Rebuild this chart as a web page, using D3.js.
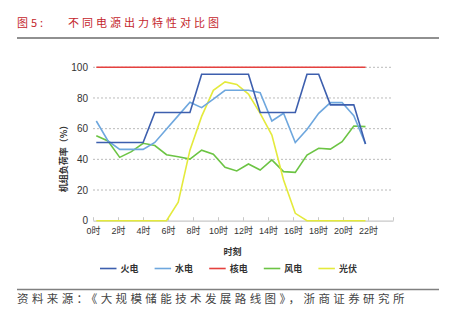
<!DOCTYPE html>
<html><head><meta charset="utf-8">
<script src="https://cdn.jsdelivr.net/npm/d3@7/dist/d3.min.js"></script>
<style>
html,body{margin:0;padding:0;background:#fff;}
svg{display:block;font-family:"Liberation Sans",Arial,"Noto Sans CJK SC",sans-serif;}
</style></head>
<body><svg id="c" width="452" height="323"></svg>
<script>
// ---- data ----
const hours = [0,1,2,3,4,5,6,7,8,9,10,11,12,13,14,15,16,17,18,19,20,21,22,23];
const thermal = [51,51,51,51,51,70.5,70.5,70.5,70.5,95.5,95.5,95.5,95.5,95.5,70.5,70.5,70.5,70.5,95.5,95.5,75.5,75.5,75.5,50];
const hydro   = [65,52,46.5,46.5,46.5,51,59.8,68.5,77.2,73.7,79.2,85,85,85,83.5,65,70,51,59.5,70,77,77,68.5,50];
const nuclear = [100,100,100,100,100,100,100,100,100,100,100,100,100,100,100,100,100,100,100,100,100,100,100,100];
const wind    = [55.4,52,41.3,45,50.5,49,43,41.7,40.2,46,43.3,34.8,32.4,37,33,39.6,32,31.5,42.8,47.2,46.7,51.5,61.7,61.3];
const solar   = [0,0,0,0,0,0,0,12,46,68,85,90.5,88.8,82.5,70,55.8,26.5,4.8,0,0,0,0,0,0];
const seriesNames = ["火电","水电","核电","风电","光伏"];
const seriesColors = ["#3d5fae","#6ea7de","#e5413e","#6cc444","#e4ea3c"];
const xTicks = [0,2,4,6,8,10,12,14,16,18,20,22,24];
const xTickLabels = ["0时","2时","4时","6时","8时","10时","12时","14时","16时","18时","20时","22时",""];
const yTicks = [0,20,40,60,80,100];
const titleText = "图5:    不同电源出力特性对比图";
const sourceText = "资料来源：《大规模储能技术发展路线图》，浙商证券研究所";
const xTitle = "时刻";
const yTitle = "机组负荷率（%）";

const svg = d3.select("#c");
const cjk = "'Noto Sans CJK SC',sans-serif";

// header
svg.append("text").attr("x",17).attr("y",27).attr("fill","#c4262c")
  .attr("font-family",cjk).attr("font-size",11).attr("letter-spacing",3)
  .style("white-space","pre").text(titleText);
svg.append("line").attr("x1",17).attr("x2",439).attr("y1",38).attr("y2",38)
  .attr("stroke","#222").attr("stroke-width",1.2);

// scales
const x = d3.scaleLinear().domain([0,24]).range([93,393]);
const xd = d3.scaleLinear().domain([0,23]).range([96.3,365.5]);
const y = d3.scaleLinear().domain([0,100]).range([220.7,67.3]);

// grid
svg.append("g").selectAll("line").data(yTicks.filter(d=>d>0)).join("line")
  .attr("x1",x(0)).attr("x2",x(24)).attr("y1",d=>y(d)).attr("y2",d=>y(d))
  .attr("stroke","#a8a8a8").attr("stroke-width",0.8).attr("stroke-dasharray","2,2");

// x axis
const xAxis = d3.axisBottom(x).tickValues(xTicks).tickSize(0).tickFormat((d,i)=>xTickLabels[i]);
const gx = svg.append("g").attr("transform",`translate(0,${y(0)})`).call(xAxis);
gx.select(".domain").attr("stroke","#c8c8c8").attr("stroke-width",1.2);
gx.selectAll(".tick text").attr("dy","0.7em").attr("y",7).attr("font-size",9).attr("fill","#333")
  .attr("font-family","'Liberation Sans','Noto Sans CJK SC',sans-serif");
gx.selectAll(".tick").append("line").attr("y1",-3.5).attr("y2",0).attr("stroke","#c8c8c8").attr("stroke-width",1);

// y axis
const yAxis = d3.axisLeft(y).tickValues(yTicks).tickSize(0).tickPadding(0);
const gy = svg.append("g").attr("transform","translate(88,0)").call(yAxis);
gy.select(".domain").remove();
gy.selectAll(".tick text").attr("font-size",10).attr("fill","#333");

// axis titles
svg.append("text").attr("x",232.5).attr("y",255).attr("text-anchor","middle")
  .attr("font-family",cjk).attr("font-size",9).attr("font-weight",600).attr("fill","#333").text(xTitle);
svg.append("text").attr("transform","translate(67,156.5) rotate(-90)").attr("text-anchor","middle")
  .attr("font-family",cjk).attr("font-size",9).attr("font-weight",600).attr("fill","#333").text(yTitle);

// lines
const allSeries = [thermal,hydro,nuclear,wind,solar];
const line = d3.line().x((d,i)=>xd(hours[i])).y(d=>y(d));
const drawOrder = [2,3,4,1,0];
drawOrder.forEach(k=>{
  svg.append("path").datum(allSeries[k]).attr("d",line).attr("fill","none")
    .attr("stroke",seriesColors[k]).attr("stroke-width",1.6).attr("stroke-linejoin","miter");
});

// legend
const lg = svg.append("g");
seriesNames.forEach((n,i)=>{
  const lx = 100 + i*54.6;
  lg.append("line").attr("x1",lx).attr("x2",lx+16.5).attr("y1",268.5).attr("y2",268.5)
    .attr("stroke",seriesColors[i]).attr("stroke-width",1.6);
  lg.append("text").attr("x",lx+20.5).attr("y",271.8).attr("font-family",cjk)
    .attr("font-size",9).attr("font-weight",600).attr("fill","#333").text(n);
});

// footer
svg.append("line").attr("x1",17).attr("x2",439).attr("y1",289.5).attr("y2",289.5)
  .attr("stroke","#808080").attr("stroke-width",1.5);
svg.append("text").attr("x",17).attr("y",303).attr("fill","#444")
  .attr("font-family",cjk).attr("font-size",11.5).attr("letter-spacing",3.4).text(sourceText);
</script></body></html>
